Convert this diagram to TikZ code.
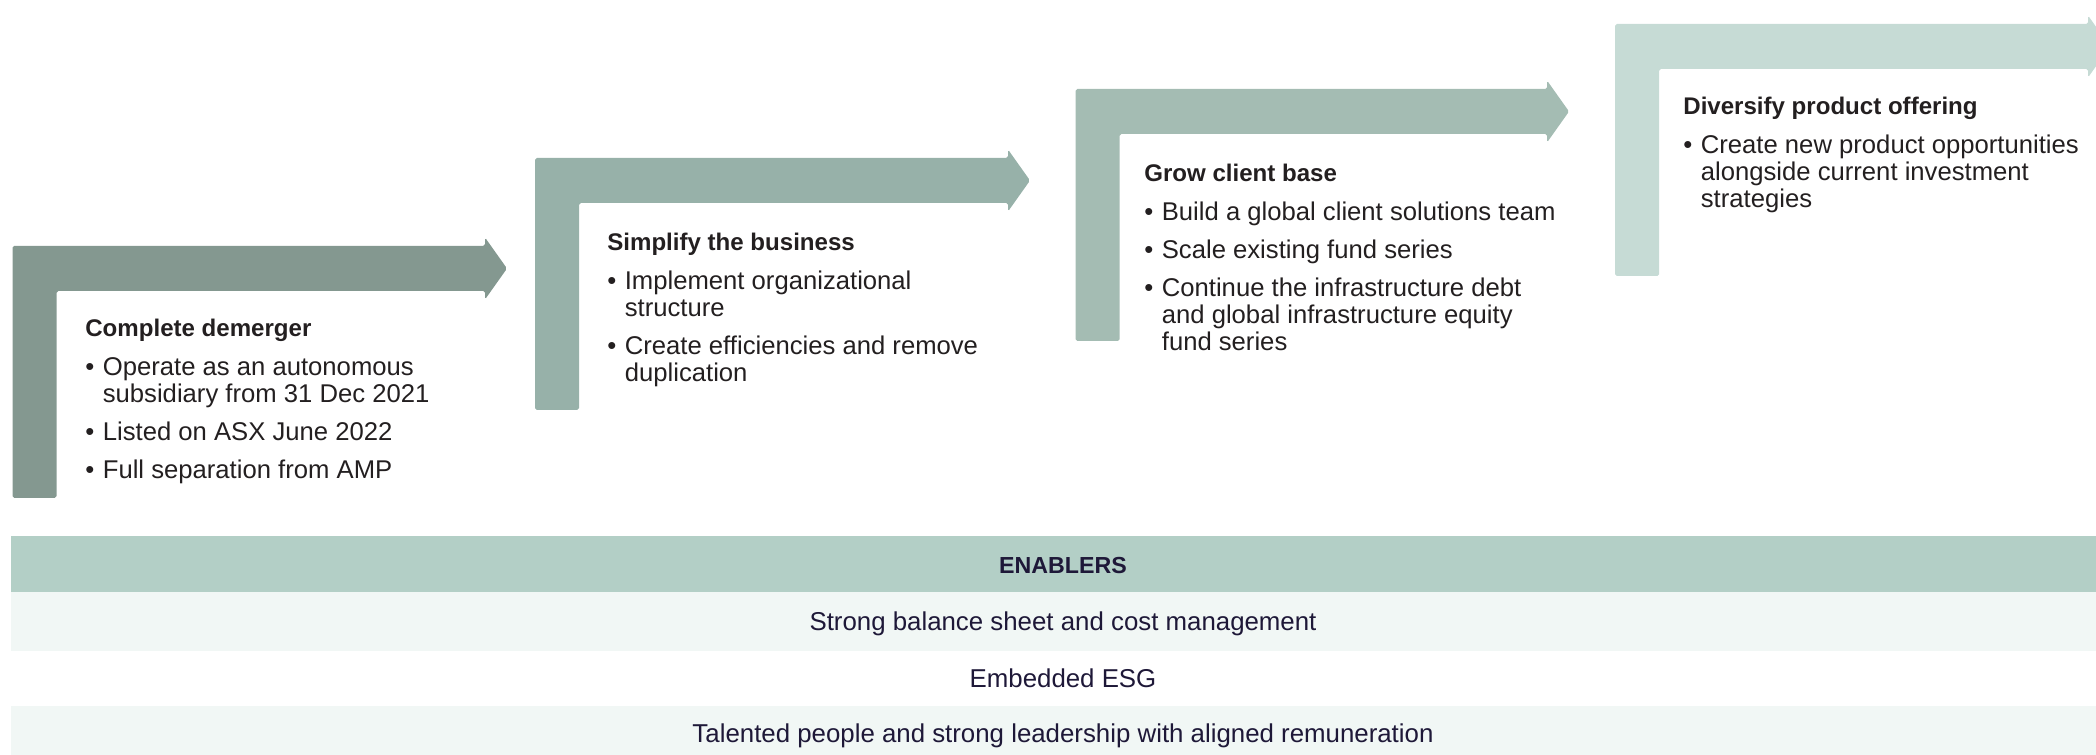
\documentclass[tikz,border=0pt]{standalone}
\usepackage{fontspec}
\setmainfont{Liberation Sans}
\usetikzlibrary{positioning}
\usepackage{xcolor}
\definecolor{stepa}{RGB}{132,152,144}
\definecolor{stepb}{RGB}{151,177,169}
\definecolor{stepc}{RGB}{164,188,179}
\definecolor{stepd}{RGB}{198,219,213}
\definecolor{hdr}{RGB}{179,207,198}
\definecolor{rowlt}{RGB}{241,247,245}
\definecolor{ink}{RGB}{35,31,32}
\definecolor{navy}{RGB}{30,24,56}

\newcommand{\bul}{\makebox[0.35cm][l]{\textbullet}}
\newcommand{\hang}{\hspace*{0.35cm}}
\newcommand{\stagehead}[1]{{\bfseries\fontsize{13.7}{15.37}\selectfont #1}}

\begin{document}
\begin{tikzpicture}[
  stage/.style={anchor=north west, align=left, inner sep=0pt, text=ink,
                font=\fontsize{14.6}{15.37}\selectfont},
  band/.style={minimum width=42.08cm, inner sep=0pt, text=navy,
               text height=2.25ex, text depth=0.25ex, font=\fontsize{14.7}{16}\selectfont},
  turn/.style={rounded corners=1pt}
]
\useasboundingbox (0,0) rectangle (41.92,15.10);
\clip (0,0) rectangle (41.92,15.10);

% bent arrows, one per stage
\foreach \x/\y/\e/\c in {0.25/10.18/9.70/stepa, 10.70/11.94/20.16/stepb,
                         21.51/13.32/30.94/stepc, 32.30/14.62/41.76/stepd}
  \fill[turn, fill=\c] (\x,\y-5.04) -- (\x,\y) -- (\e,\y) -- (\e,\y+0.17)
    -- (\e+0.44,\y-0.45) -- (\e,\y-1.07) -- (\e,\y-0.9)
    -- (\x+0.88,\y-0.9) -- (\x+0.88,\y-5.04) -- cycle;

\node[stage] (dem) at (1.70,8.735) {\stagehead{Complete demerger}\\[0.24cm]
  \bul Operate as an autonomous\\
  \hang subsidiary from 31 Dec 2021\\[0.22cm]
  \bul Listed on ASX June 2022\\[0.22cm]
  \bul Full separation from AMP};
\node[stage] (simp) at (12.14,10.455) {\stagehead{Simplify the business}\\[0.24cm]
  \bul Implement organizational\\
  \hang structure\\[0.22cm]
  \bul Create efficiencies and remove\\
  \hang duplication};
\node[stage] (grow) at (22.88,11.835) {\stagehead{Grow client base}\\[0.24cm]
  \bul Build a global client solutions team\\[0.22cm]
  \bul Scale existing fund series\\[0.22cm]
  \bul Continue the infrastructure debt\\
  \hang and global infrastructure equity\\
  \hang fund series};
\node[stage] (div) at (33.66,13.175) {\stagehead{Diversify product offering}\\[0.24cm]
  \bul Create new product opportunities\\
  \hang alongside current investment\\
  \hang strategies};

% enablers
\node[band, fill=hdr, minimum height=1.12cm, font=\bfseries\fontsize{13.2}{16}\selectfont]
  (enab) at (21.26,3.82) {ENABLERS};
\node[band, fill=rowlt, minimum height=1.18cm] (bal) at (21.26,2.67) {Strong balance sheet and cost management};
\node[band, minimum height=1.10cm] (esg) at (21.26,1.53) {Embedded ESG};
\node[band, fill=rowlt, minimum height=1.10cm] (ppl) at (21.26,0.43) {Talented people and strong leadership with aligned remuneration};
\end{tikzpicture}
\end{document}
